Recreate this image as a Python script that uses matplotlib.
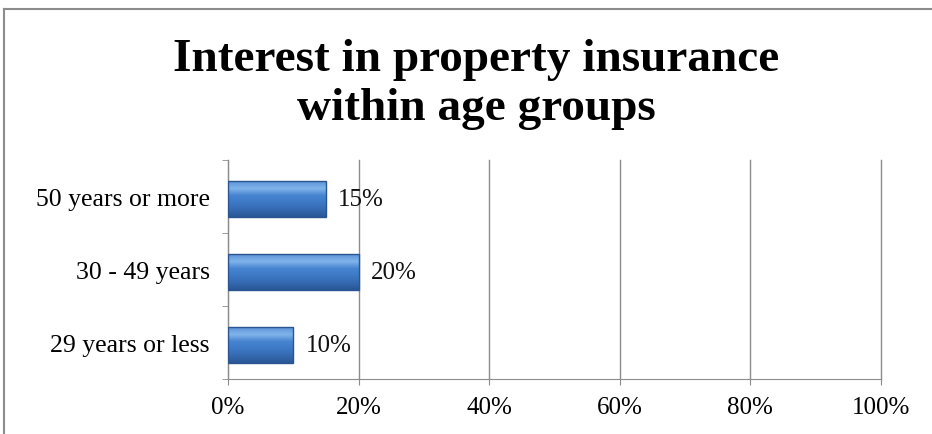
import numpy as np
import matplotlib.pyplot as plt
from matplotlib.colors import LinearSegmentedColormap
from matplotlib.lines import Line2D

groups = ["29 years or less", "30 - 49 years", "50 years or more"]
interest = [10, 20, 15]
xticks = [0, 20, 40, 60, 80, 100]

plt.rcParams["font.family"] = ["Liberation Serif", "DejaVu Serif"]

W, H = 932, 435
fig = plt.figure(figsize=(W / 100, H / 100), dpi=100)
ax = fig.add_axes([228 / W, 1 - 380 / H, (881 - 228) / W, (380 - 161) / H])

ypos = list(range(len(groups)))
bars = ax.barh([y - 0.03 for y in ypos], interest, height=0.49, color="#3b77c4",
               edgecolor="#2a5592", linewidth=1.0, zorder=3)

# vertical shading inside each bar: light top edge, darker bottom edge
shade = LinearSegmentedColormap.from_list(
    "bevel", ["#2a5796", "#3569b0", "#3d79c6", "#4684d0", "#80b4ea", "#5d94d8"])
grad = np.linspace(0, 1, 64).reshape(-1, 1)
for b in bars:
    x0, y0 = b.get_x(), b.get_y()
    im = ax.imshow(grad, cmap=shade, origin="lower", aspect="auto", zorder=3.5,
                   extent=[x0, x0 + b.get_width(), y0, y0 + b.get_height()])
    im.set_clip_path(b)
    b.set_facecolor("none")
    b.set_zorder(4)

for y, v in zip(ypos, interest):
    ax.text(v + 1.9, y - 0.03, f"{v}%", va="center", ha="left", fontsize=18,
            color="#111111", zorder=5)

ax.set_xlim(0, 100)
ax.set_ylim(-0.5, len(groups) - 0.5)
ax.set_xticks(xticks)
ax.set_xticklabels([f"{t}%" for t in xticks], fontsize=18)
ax.set_yticks(ypos)
ax.set_yticklabels(groups, fontsize=18.5)
ax.set_yticks([-0.5, 0.5, 1.5, 2.5], minor=True)
ax.tick_params(axis="y", which="major", length=0, pad=13)
ax.tick_params(axis="y", which="minor", length=4, color="#8c8c8c", direction="out")
ax.tick_params(axis="x", length=4, color="#8c8c8c", pad=8)
ax.grid(axis="x", color="#8c8c8c", linewidth=1.0, zorder=0)
for gl in ax.get_xgridlines():
    gl.set_clip_on(False)
for side in ["top", "right"]:
    ax.spines[side].set_visible(False)
for side in ["left", "bottom"]:
    ax.spines[side].set_color("#8c8c8c")

fig.text(476 / W, 1 - 71 / H, "Interest in property insurance", ha="center", va="baseline",
         fontsize=34, fontweight="bold")
fig.text(476 / W, 1 - 120 / H, "within age groups", ha="center", va="baseline",
         fontsize=34, fontweight="bold")

# chart frame edges
fig.add_artist(Line2D([4 / W, 4 / W], [0, 1 - 10 / H], color="#8c8c8c", linewidth=1.5))
fig.add_artist(Line2D([4 / W, 1], [1 - 10 / H, 1 - 10 / H], color="#8c8c8c", linewidth=1.5))

fig.savefig("out.png", dpi=100)
